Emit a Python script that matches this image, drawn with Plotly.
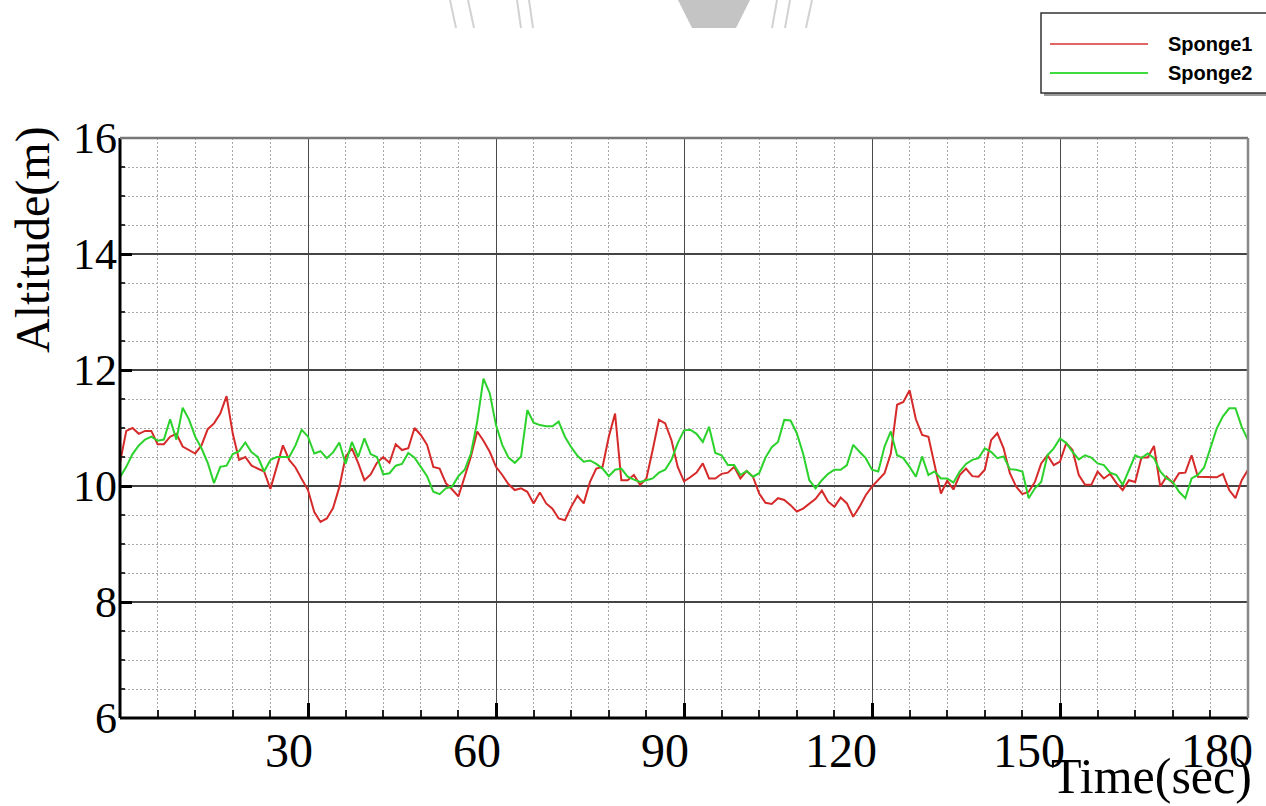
import plotly.graph_objects as go

# ---- data -------------------------------------------------------------
time_s = list(range(181))

sponge1 = [
    10.40, 10.95, 11.00, 10.90, 10.95, 10.95, 10.72, 10.72, 10.85, 10.90,
    10.68, 10.62, 10.56, 10.70, 10.98, 11.08, 11.25, 11.55, 10.90, 10.45,
    10.50, 10.35, 10.30, 10.25, 9.95, 10.33, 10.70, 10.45, 10.32, 10.12,
    9.93, 9.55, 9.38, 9.44, 9.62, 9.98, 10.50, 10.65, 10.40, 10.10,
    10.20, 10.40, 10.50, 10.40, 10.72, 10.62, 10.65, 11.00, 10.88, 10.71,
    10.33, 10.30, 10.05, 9.94, 9.82, 10.16, 10.51, 10.94, 10.78, 10.59,
    10.33, 10.19, 10.03, 9.93, 9.96, 9.90, 9.70, 9.89, 9.70, 9.61,
    9.44, 9.41, 9.64, 9.83, 9.70, 10.07, 10.30, 10.33, 10.85, 11.25,
    10.10, 10.10, 10.19, 10.02, 10.13, 10.62, 11.14, 11.08, 10.79, 10.33,
    10.08, 10.15, 10.23, 10.39, 10.13, 10.13, 10.21, 10.23, 10.33, 10.13,
    10.26, 10.16, 9.87, 9.71, 9.69, 9.79, 9.76, 9.67, 9.56, 9.61,
    9.70, 9.78, 9.92, 9.73, 9.64, 9.80, 9.70, 9.47, 9.64, 9.84,
    9.99, 10.11, 10.22, 10.56, 11.40, 11.45, 11.65, 11.15, 10.88, 10.85,
    10.36, 9.87, 10.09, 9.94, 10.19, 10.30, 10.17, 10.16, 10.28, 10.79,
    10.91, 10.65, 10.22, 9.99, 9.86, 9.90, 10.07, 10.39, 10.53, 10.36,
    10.42, 10.74, 10.62, 10.19, 10.02, 10.02, 10.25, 10.13, 10.21, 10.05,
    9.93, 10.10, 10.07, 10.49, 10.49, 10.69, 9.99, 10.16, 10.05, 10.22,
    10.23, 10.53, 10.16, 10.16, 10.15, 10.15, 10.21, 9.93, 9.79, 10.10,
    10.28,
]

sponge2 = [
    10.15, 10.33, 10.55, 10.70, 10.80, 10.85, 10.78, 10.80, 11.15, 10.80,
    11.35, 11.15, 10.85, 10.65, 10.40, 10.05, 10.33, 10.35, 10.55, 10.60,
    10.75, 10.58, 10.50, 10.25, 10.45, 10.50, 10.50, 10.50, 10.70, 10.97,
    10.85, 10.56, 10.60, 10.48, 10.58, 10.75, 10.38, 10.76, 10.50, 10.82,
    10.55, 10.50, 10.20, 10.22, 10.35, 10.38, 10.57, 10.49, 10.33, 10.17,
    9.90, 9.86, 9.96, 9.99, 10.17, 10.28, 10.56, 11.11, 11.85, 11.60,
    11.05, 10.71, 10.49, 10.40, 10.51, 11.31, 11.09, 11.05, 11.03, 11.03,
    11.11, 10.85, 10.67, 10.52, 10.42, 10.44, 10.38, 10.30, 10.17, 10.28,
    10.30, 10.16, 10.11, 10.07, 10.10, 10.13, 10.23, 10.28, 10.45, 10.74,
    10.96, 10.97, 10.90, 10.76, 11.02, 10.57, 10.53, 10.36, 10.36, 10.19,
    10.26, 10.16, 10.22, 10.49, 10.67, 10.76, 11.14, 11.13, 10.91, 10.56,
    10.10, 9.96, 10.10, 10.21, 10.28, 10.28, 10.36, 10.71, 10.59, 10.48,
    10.28, 10.25, 10.68, 10.94, 10.53, 10.48, 10.33, 10.16, 10.51, 10.19,
    10.25, 10.13, 10.13, 10.06, 10.25, 10.38, 10.45, 10.48, 10.65, 10.59,
    10.48, 10.51, 10.29, 10.28, 10.25, 9.79, 9.96, 10.07, 10.53, 10.65,
    10.82, 10.74, 10.59, 10.46, 10.53, 10.49, 10.39, 10.36, 10.23, 10.19,
    10.02, 10.28, 10.53, 10.48, 10.56, 10.48, 10.25, 10.13, 10.07, 9.90,
    9.79, 10.13, 10.19, 10.32, 10.65, 10.99, 11.20, 11.34, 11.34, 11.02,
    10.79,
]

series_names = ["Sponge1", "Sponge2"]
x_tick_values = [30, 60, 90, 120, 150, 180]
y_tick_values = [6, 8, 10, 12, 14, 16]
x_title = "Time(sec)"
y_title = "Altitude(m)"

# ---- geometry of the page (pixels) -----------------------------------
W, H = 1266, 806
L, R, T, B = 120, 18, 138, 88
PW, PH = W - L - R, H - T - B


def px(x):
    """page x pixel -> paper coordinate"""
    return (x - L) / PW


def py(y):
    """page y pixel (from top) -> paper coordinate"""
    return (H - B - y) / PH


RED = "#d62a2a"
GREEN = "#2cd22c"
SERIF = "Liberation Serif, Times New Roman, serif"
SANS = "Liberation Sans, Arial, sans-serif"

fig = go.Figure()
fig.add_trace(go.Scatter(x=time_s, y=sponge1, mode="lines", name=series_names[0],
                         line=dict(color=RED, width=2), showlegend=False))
fig.add_trace(go.Scatter(x=time_s, y=sponge2, mode="lines", name=series_names[1],
                         line=dict(color=GREEN, width=2), showlegend=False))

fig.update_layout(
    width=W, height=H, autosize=False,
    margin=dict(l=L, r=R, t=T, b=B, pad=0),
    paper_bgcolor="white", plot_bgcolor="white",
    showlegend=False,
)

fig.update_xaxes(
    range=[0, 180], tickmode="linear", tick0=0, dtick=30,
    showgrid=True, gridcolor="#4a4a4a", gridwidth=1.4,
    zeroline=False, showline=False, showticklabels=False,
    ticks="inside", ticklen=15, tickwidth=3, tickcolor="black",
    minor=dict(tick0=0, dtick=6, showgrid=True, gridcolor="#a8a8a8",
               griddash="2px,2px", gridwidth=1, ticks="inside", ticklen=8,
               tickwidth=2, tickcolor="#222222"),
)
fig.update_yaxes(
    range=[6, 16], tickmode="linear", tick0=6, dtick=2,
    showgrid=True, gridcolor="#444444", gridwidth=1.8,
    zeroline=False, showline=False, showticklabels=False,
    ticks="inside", ticklen=12, tickwidth=3, tickcolor="black",
    minor=dict(tick0=6, dtick=0.5, showgrid=True, gridcolor="#a8a8a8",
               griddash="2px,2px", gridwidth=1, ticks="inside", ticklen=5,
               tickwidth=1.5, tickcolor="#333333"),
)

shapes = []
# frame: heavy black left/bottom, grey top/right
shapes.append(dict(type="line", xref="paper", yref="paper", x0=0, y0=0, x1=1, y1=0,
                   line=dict(color="black", width=3), layer="above"))
shapes.append(dict(type="line", xref="paper", yref="paper", x0=0, y0=0, x1=0, y1=1,
                   line=dict(color="black", width=3), layer="above"))
shapes.append(dict(type="line", xref="paper", yref="paper", x0=0, y0=1, x1=1, y1=1,
                   line=dict(color="#777777", width=2.5), layer="above"))
shapes.append(dict(type="line", xref="paper", yref="paper", x0=1, y0=0, x1=1, y1=1,
                   line=dict(color="#888888", width=2.5), layer="above"))

# legend box with a soft shadow along its lower edge
shapes.append(dict(type="rect", xref="paper", yref="paper",
                   x0=px(1044), x1=px(1280), y0=py(96), y1=py(15),
                   fillcolor="#9a9a9a", line=dict(width=0), layer="above"))
shapes.append(dict(type="rect", xref="paper", yref="paper",
                   x0=px(1041), x1=px(1280), y0=py(93), y1=py(13),
                   fillcolor="white", line=dict(color="#333333", width=1.5), layer="above"))
for yy, col in ((44, "#e36464"), (73, "#3fdc3f")):
    shapes.append(dict(type="line", xref="paper", yref="paper",
                       x0=px(1050), x1=px(1148), y0=py(yy), y1=py(yy),
                       line=dict(color=col, width=2), layer="above"))

# faint emblem fragments along the top edge of the page
WM = "#d2d2d2"
for (xa, xb) in ((450, 456), (468, 474), (517, 521), (529, 533), (777, 772), (790, 785), (812, 806)):
    shapes.append(dict(type="line", xref="paper", yref="paper",
                       x0=px(xa), x1=px(xb), y0=py(0), y1=py(28),
                       line=dict(color=WM, width=2)))
shapes.append(dict(type="path", xref="paper", yref="paper",
                   path=f"M {px(678)} {py(0)} L {px(750)} {py(0)} L {px(736)} {py(28)} "
                        f"L {px(692)} {py(28)} Z",
                   fillcolor="#c4c4c4", line=dict(width=0)))

annotations = []
for v in x_tick_values:
    annotations.append(dict(x=v, xref="x", y=0, yref="paper", text=str(v),
                            showarrow=False, xanchor="right", yanchor="top",
                            xshift=7, yshift=-4,
                            font=dict(family=SERIF, size=48, color="black")))
for v in y_tick_values:
    annotations.append(dict(x=0, xref="paper", y=v, yref="y", text=str(v),
                            showarrow=False, xanchor="right", yanchor="middle",
                            xshift=-1, font=dict(family=SERIF, size=44, color="black")))
annotations.append(dict(x=px(33), xref="paper", y=py(240), yref="paper", text=y_title,
                        textangle=-90, showarrow=False, xanchor="center", yanchor="middle",
                        font=dict(family=SERIF, size=48, color="black")))
annotations.append(dict(x=px(1254), xref="paper", y=py(806), yref="paper", text=x_title,
                        showarrow=False, xanchor="right", yanchor="bottom",
                        font=dict(family=SERIF, size=50, color="black")))
for name, yy in zip(series_names, (44, 73)):
    annotations.append(dict(x=px(1166), xref="paper", y=py(yy), yref="paper",
                            text=f"<b>{name}</b>", showarrow=False,
                            xanchor="left", yanchor="middle",
                            font=dict(family=SANS, size=20, color="black")))

fig.update_layout(shapes=shapes, annotations=annotations)
fig.write_html("out.html")
